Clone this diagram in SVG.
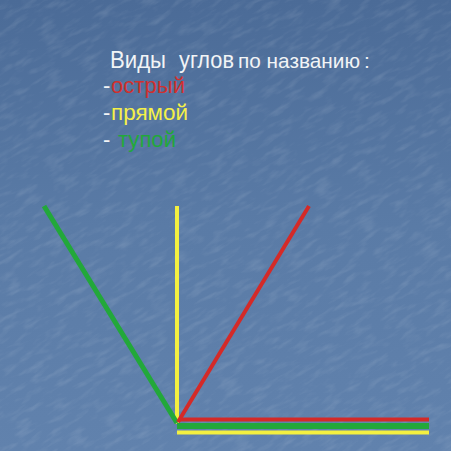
<svg xmlns="http://www.w3.org/2000/svg" width="451" height="451" viewBox="0 0 451 451">
<defs>
<linearGradient id="bg" x1="0" y1="0" x2="0" y2="1">
<stop offset="0" stop-color="#4b6b97"/>
<stop offset="0.5" stop-color="#5a7ba6"/>
<stop offset="1" stop-color="#6182ad"/>
</linearGradient>
<filter id="tex" x="0" y="0" width="100%" height="100%">
<feTurbulence type="fractalNoise" baseFrequency="0.05 0.18" numOctaves="3" seed="4" result="n"/>
<feColorMatrix in="n" type="matrix" values="0 0 0 0 1  0 0 0 0 1  0 0 0 0 1  0 0 0 0.9 -0.42"/>
</filter>
<style>
text{font-family:"Liberation Sans",Arial,sans-serif}
.w{fill:#f2f4f6}
.line{fill:none;stroke-linecap:butt}
</style>
</defs>
<rect width="451" height="451" fill="url(#bg)"/>
<g transform="rotate(-30 225 225)"><rect x="-100" y="-100" width="651" height="651" filter="url(#tex)" opacity="0.28"/></g>
<g id="title">
<text x="110" y="68" font-size="23" class="w" lengthAdjust="spacingAndGlyphs"><tspan textLength="56" lengthAdjust="spacingAndGlyphs">Виды</tspan><tspan x="179" textLength="55" lengthAdjust="spacingAndGlyphs">углов</tspan><tspan x="238" font-size="21" textLength="122" lengthAdjust="spacingAndGlyphs">по названию</tspan><tspan x="364" font-size="21">:</tspan></text>
</g>
<g id="list">
<text x="103" y="93" font-size="22"><tspan class="w">-</tspan><tspan x="111" fill="#d0302e" textLength="74" lengthAdjust="spacingAndGlyphs">острый</tspan></text>
<text x="103" y="120" font-size="22"><tspan class="w">-</tspan><tspan x="111" fill="#f4f048" textLength="77" lengthAdjust="spacingAndGlyphs">прямой</tspan></text>
<text x="103" y="147" font-size="22"><tspan class="w">-</tspan><tspan x="118" fill="#22a83a" textLength="58" lengthAdjust="spacingAndGlyphs">тупой</tspan></text>
</g>
<g id="connectors">
<line class="line" x1="177" y1="206" x2="177" y2="424" stroke="#f4f040" stroke-width="4"/>
<line class="line" x1="177" y1="432.5" x2="429" y2="432.5" stroke="#f4f040" stroke-width="4"/>
<line class="line" x1="44" y1="206" x2="177" y2="423" stroke="#22a83a" stroke-width="5"/>
<line class="line" x1="177" y1="426" x2="429" y2="426" stroke="#22a83a" stroke-width="6"/>
<line class="line" x1="309" y1="206" x2="178" y2="422" stroke="#d42a28" stroke-width="4"/>
<line class="line" x1="180" y1="419.5" x2="429" y2="419.5" stroke="#d42a28" stroke-width="4"/>
</g>
</svg>
